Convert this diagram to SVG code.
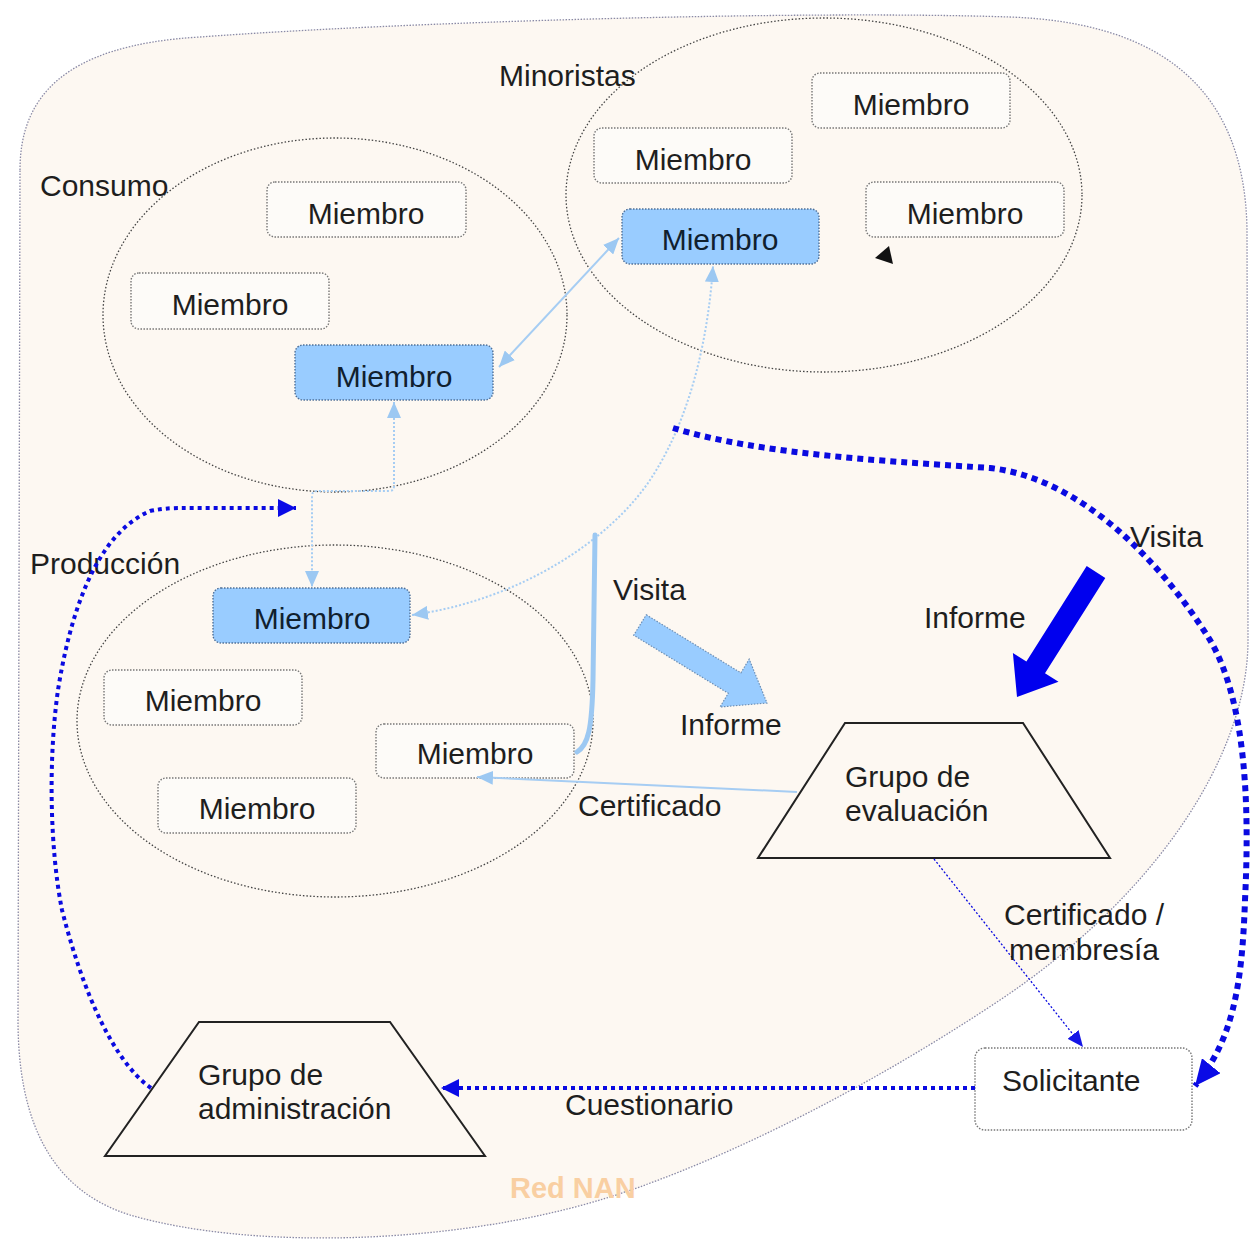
<svg xmlns="http://www.w3.org/2000/svg" width="1259" height="1248" viewBox="0 0 1259 1248">
<style>
.t{font-family:"Liberation Sans",Arial,sans-serif;font-size:30px;fill:#1e1e1e}
.m{text-anchor:middle}
.box{fill:#fdfbf8;stroke:#777;stroke-width:1.4;stroke-dasharray:1.5 1.5}
.bbox{fill:#99CCFF;stroke:#4f6f96;stroke-width:1.4;stroke-dasharray:1.5 1.5}
.ell{fill:none;stroke:#444;stroke-width:1.3;stroke-dasharray:1.5 2}
.trap{fill:none;stroke:#222;stroke-width:2}
.lb{fill:none;stroke:#A6CDF3;stroke-width:2}
.lbd{fill:none;stroke:#A6CDF3;stroke-width:2;stroke-dasharray:2 2}
.db{fill:none;stroke:#0A0AE0}
</style>
<defs>
<marker id="lbA" markerUnits="userSpaceOnUse" viewBox="0 0 16 14" refX="16" refY="7" markerWidth="16" markerHeight="14" orient="auto-start-reverse"><path d="M0,0 L16,7 L0,14 z" fill="#9CC8F2"/></marker>
<marker id="dbS" markerUnits="userSpaceOnUse" viewBox="0 0 16 14" refX="16" refY="7" markerWidth="16" markerHeight="14" orient="auto"><path d="M0,0 L16,7 L0,14 z" fill="#1515E6"/></marker>
<marker id="dbM" markerUnits="userSpaceOnUse" viewBox="0 0 18 18" refX="18" refY="9" markerWidth="18" markerHeight="18" orient="auto"><path d="M0,0 L18,9 L0,18 z" fill="#0A0AE6"/></marker>
<marker id="dbL" markerUnits="userSpaceOnUse" viewBox="0 0 26 24" refX="26" refY="12" markerWidth="26" markerHeight="24" orient="auto"><path d="M0,0 L26,12 L0,24 z" fill="#0A0AE6"/></marker>
</defs>
<rect x="0" y="0" width="1259" height="1248" fill="#ffffff"/>
<g id="red-nan">
<path d="M20,170 C20,100 60,45 200,37 C400,22 800,10 1010,17 C1150,22 1245,80 1247,230 L1248,640 C1248,760 1150,900 1000,1000 C850,1100 700,1170 600,1200 C450,1245 250,1250 130,1215 C50,1190 18,1120 18,1020 Z" fill="#FDF8F2" stroke="#8a8aa6" stroke-width="1.3" stroke-dasharray="1.5 1.5"/>
<text class="t" x="510" y="1198" style="font-weight:bold;font-size:29px;fill:#F9CFA2">Red NAN</text>
</g>
<g id="consumo">
<ellipse class="ell" cx="335" cy="315" rx="232" ry="177"/>
<text class="t" x="40" y="196">Consumo</text>
</g>
<g id="minoristas">
<ellipse class="ell" cx="824" cy="195" rx="258" ry="177"/>
<text class="t" x="499" y="86">Minoristas</text>
</g>
<g id="produccion">
<ellipse class="ell" cx="335" cy="721" rx="258" ry="176"/>
<text class="t" x="30" y="574">Producción</text>
</g>
<g id="c-m1"><rect class="box" x="267" y="182" width="199" height="55" rx="8"/><text class="t m" x="366" y="224">Miembro</text></g>
<g id="c-m2"><rect class="box" x="131" y="273" width="198" height="56" rx="8"/><text class="t m" x="230" y="315">Miembro</text></g>
<g id="c-m3"><rect class="bbox" x="295" y="345" width="198" height="55" rx="8"/><text class="t m" x="394" y="387" style="fill:#10202e">Miembro</text></g>
<g id="r-m1"><rect class="box" x="812" y="73" width="198" height="55" rx="8"/><text class="t m" x="911" y="115">Miembro</text></g>
<g id="r-m2"><rect class="box" x="594" y="128" width="198" height="55" rx="8"/><text class="t m" x="693" y="170">Miembro</text></g>
<g id="r-m3"><rect class="box" x="866" y="182" width="198" height="55" rx="8"/><text class="t m" x="965" y="224">Miembro</text></g>
<g id="r-m4"><rect class="bbox" x="622" y="209" width="197" height="55" rx="8"/><text class="t m" x="720" y="250" style="fill:#10202e">Miembro</text></g>
<g id="p-m1"><rect class="bbox" x="213" y="588" width="197" height="55" rx="8"/><text class="t m" x="312" y="629" style="fill:#10202e">Miembro</text></g>
<g id="p-m2"><rect class="box" x="104" y="670" width="198" height="55" rx="8"/><text class="t m" x="203" y="711">Miembro</text></g>
<g id="p-m3"><rect class="box" x="376" y="724" width="198" height="54" rx="8"/><text class="t m" x="475" y="764">Miembro</text></g>
<g id="p-m4"><rect class="box" x="158" y="778" width="198" height="55" rx="8"/><text class="t m" x="257" y="819">Miembro</text></g>
<g id="grupo-evaluacion">
<polygon class="trap" points="845,723 1023,723 1110,858 758,858"/>
<text class="t" x="845" y="787">Grupo de</text>
<text class="t" x="845" y="821">evaluación</text>
</g>
<g id="grupo-administracion">
<polygon class="trap" points="199,1022 390,1022 485,1156 105,1156"/>
<text class="t" x="198" y="1085">Grupo de</text>
<text class="t" x="198" y="1119">administración</text>
</g>
<g id="solicitante">
<rect class="box" x="975" y="1048" width="217" height="82" rx="10" style="fill:#ffffff"/>
<text class="t" x="1002" y="1091">Solicitante</text>
</g>
<g id="connectors">
<path class="lb" d="M499,367 L619,238" marker-start="url(#lbA)" marker-end="url(#lbA)"/>
<path class="lbd" d="M394,402 L394,486 Q394,491 389,491 L317,491 Q312,491 312,496 L312,587" marker-start="url(#lbA)" marker-end="url(#lbA)"/>
<path class="lbd" d="M412,615 C520,600 610,540 650,480 C690,420 708,340 713,266" marker-start="url(#lbA)" marker-end="url(#lbA)"/>
<path d="M595,535 L593,680 C592,730 588,745 577,752" fill="none" stroke="#9CC8F2" stroke-width="5" stroke-linecap="round"/>
<path class="lb" d="M797,792 L477,777" marker-end="url(#lbA)"/>
<polygon points="646.3,614.8 740.9,672.9 749.2,659.2 767,703 720,707 728.3,693.3 633.7,635.2" fill="#99CCFF" stroke="#6d8fb5" stroke-width="1.2" stroke-dasharray="1.5 1.5"/>
<polygon points="1086.7,566.1 1105.3,577.9 1045,673.3 1058.5,681.8 1017,697 1012.9,653 1026.4,661.5" fill="#0000EE"/>
<path class="db" d="M934,859 L1083,1047" stroke-width="1.3" stroke-dasharray="2 2" marker-end="url(#dbS)"/>
<path class="db" d="M975,1088 L441,1088" stroke-width="4" stroke-dasharray="4 4" marker-end="url(#dbM)"/>
<path class="db" d="M151,1088 C125,1070 90,1020 62,910 C50,850 48,760 58,690 C70,615 95,535 150,511 C165,508 175,508 185,508 L296,508" stroke-width="4" stroke-dasharray="4 4" marker-end="url(#dbM)"/>
<path class="db" d="M673,428 C760,455 900,462 990,468 C1080,478 1160,560 1210,640 C1245,700 1250,800 1245,900 C1242,990 1232,1040 1195,1086" stroke-width="6" stroke-dasharray="6 5" marker-end="url(#dbL)"/>
<polygon points="875,258 889,246 893,264" fill="#111"/>
</g>
<g id="labels">
<text class="t" x="613" y="600">Visita</text>
<text class="t" x="680" y="735">Informe</text>
<text class="t" x="578" y="816">Certificado</text>
<text class="t" x="924" y="628">Informe</text>
<text class="t" x="1130" y="547">Visita</text>
<text class="t" x="1004" y="925">Certificado /</text>
<text class="t" x="1009" y="960">membresía</text>
<text class="t" x="565" y="1115">Cuestionario</text>
</g>
</svg>
